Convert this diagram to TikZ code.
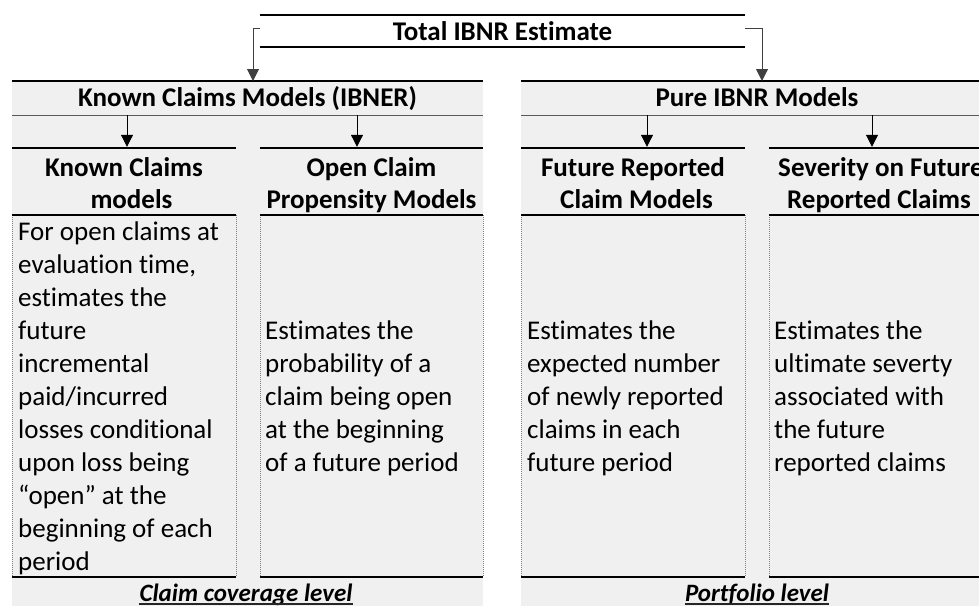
\documentclass[tikz,border=0pt]{standalone}
\usepackage{fontspec}
\setmainfont{Carlito}[Ligatures={NoCommon}]
\usetikzlibrary{arrows.meta}
\definecolor{gry}{HTML}{F0F0F0}
\definecolor{dot}{HTML}{808080}
\begin{document}
\begin{tikzpicture}[x=1pt,y=-1pt,
  hdr/.style={inner sep=0pt,align=center,font=\bfseries\fontsize{27}{32}\selectfont},
  body/.style={inner sep=0pt,align=left,anchor=west,font=\fontsize{27}{33}\selectfont},
  lvl/.style={inner sep=0pt,anchor=base,font=\bfseries\itshape\fontsize{25}{30}\selectfont},
  heavy/.style={line width=2.4pt,black},
  mid/.style={line width=2pt,black},
  thin/.style={line width=1.1pt,black!65},
  side/.style={line width=1pt,dot,densely dotted},
  uline/.style={line width=1.4pt,black!85},
  arr/.style={line width=1pt,black,-{Triangle[width=12pt,length=12pt]}},
  tarr/.style={line width=1pt,black!75,-{Triangle[width=12pt,length=12pt]}}]
\useasboundingbox (0,0) rectangle (979,606);
\clip (0,0) rectangle (979,606);
% gray areas
\fill[gry] (12,81) rectangle (483,606);
\fill[gry] (521,81) rectangle (993,606);
% top node
\node[hdr,minimum width=485pt,minimum height=32pt] (total) at (502.5,31) {Total IBNR Estimate};
\draw[mid] (total.north west) -- (total.north east);
\draw[mid] (total.south west) -- (total.south east);
% group headers
\node[hdr,minimum width=471pt,minimum height=34pt,text height=25pt,text depth=9pt] (known) at (247.5,98) {Known Claims Models (IBNER)};
\node[hdr,minimum width=472pt,minimum height=34pt,text height=25pt,text depth=9pt] (pure) at (757,98) {Pure IBNR Models};
\foreach \n in {known,pure}{
  \draw[heavy] (\n.north west) -- (\n.north east);
  \draw[thin] (\n.south west) -- (\n.south east);
}
% column headers (north edge at y=148)
\node[hdr,minimum width=224pt,minimum height=76pt] (c1h) at (124,186) {\strut Known Claims\hspace{10pt}\\\hspace{15pt}models\strut};
\node[hdr,minimum width=223pt,minimum height=76pt] (c2h) at (371.5,186) {\strut Open Claim\hspace{4pt}\\Propensity Models\strut};
\node[hdr,minimum width=224pt,minimum height=76pt] (c3h) at (633,186) {\strut Future Reported\hspace{16pt}\\\hspace{7pt}Claim Models\strut};
\node[hdr,minimum width=224pt,minimum height=76pt] (c4h) at (881,186) {\strut Severity on Future\\Reported Claims\hspace{4pt}\strut};
% body frames
\coordinate (b1a) at (12,215);  \coordinate (b1b) at (236,577);
\coordinate (b2a) at (260,215); \coordinate (b2b) at (483,577);
\coordinate (b3a) at (521,215); \coordinate (b3b) at (745,577);
\coordinate (b4a) at (769,215); \coordinate (b4b) at (993,577);
\foreach \i in {1,2,3,4}{
  \draw[side] (b\i a) -- (b\i a |- b\i b);
  \draw[side] (b\i b |- b\i a) -- (b\i b);
  \draw[mid] (c\i h.north west) -- (c\i h.north east);
  \draw[mid] (b\i a) -- (b\i b |- b\i a);
  \draw[heavy] (b\i a |- b\i b) -- (b\i b);
}
% body texts
\node[body] (c1b) at (18,398.5) {\strut For open claims at\\evaluation time,\\estimates the\\future\\incremental\\paid/incurred\\losses conditional\\upon loss being\\“open” at the\\beginning of each\\period\strut};
\node[body] (c2b) at (265,398.5) {\strut Estimates the\\probability of a\\claim being open\\at the beginning\\of a future period\strut};
\node[body] (c3b) at (527,398.5) {\strut Estimates the\\expected number\\of newly reported\\claims in each\\future period\strut};
\node[body] (c4b) at (774,398.5) {\strut Estimates the\\ultimate severty\\associated with\\the future\\reported claims\strut};
% level labels
\node[lvl] (lev1) at (246,601.5) {Claim coverage level};
\node[lvl] (lev2) at (757,601.5) {Portfolio level};
\foreach \n in {lev1,lev2}
  \draw[uline] ([yshift=-2.6pt]\n.base west) -- ([yshift=-2.6pt]\n.base east);
% connectors from total
\coordinate (kt) at (253,81);
\coordinate (pt) at (762,81);
\draw[tarr] ([yshift=3pt]total.west) -| (kt);
\draw[tarr] ([yshift=3pt]total.east) -| (pt);
% connectors to columns
\coordinate (a1) at (127,0);
\coordinate (a2) at (357,0);
\coordinate (a3) at (647,0);
\coordinate (a4) at (872,0);
\draw[arr] (known.south -| a1) -- ([yshift=1pt]c1h.north -| a1);
\draw[arr] (known.south -| a2) -- ([yshift=1pt]c2h.north -| a2);
\draw[arr] (pure.south -| a3) -- ([yshift=1pt]c3h.north -| a3);
\draw[arr] (pure.south -| a4) -- ([yshift=1pt]c4h.north -| a4);
\end{tikzpicture}
\end{document}
